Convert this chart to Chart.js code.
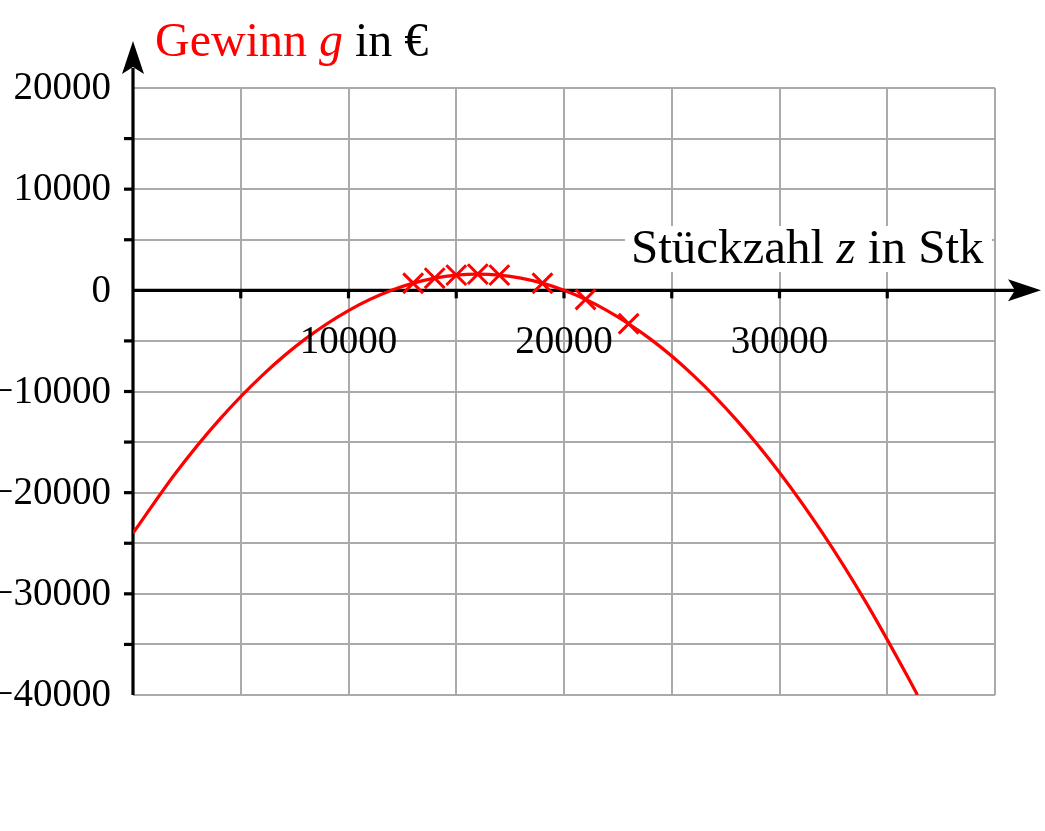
<!DOCTYPE html>
<html lang="de">
<head>
<meta charset="UTF-8">
<title>Gewinn g in €</title>
<script src="https://cdn.jsdelivr.net/npm/chart.js"></script>
<style>
  html, body { margin: 0; padding: 0; background: #fff; }
  #wrap { width: 1045px; height: 831px; }
</style>
</head>
<body>
<div id="wrap"><canvas id="gewinnChart" width="1045" height="831"></canvas></div>
<script>
  // Gewinnkurve g(z)
  const kurveZ = [0, 2000, 4000, 6000, 8000, 10000, 12000, 14000, 16000, 18000,
                  20000, 22000, 24000, 26000, 28000, 30000, 32000, 34000, 36000, 36400];
  const kurveG = [-24000, -18000, -12800, -8400, -4800, -2000, 0, 1200, 1600, 1200,
                  0, -2000, -4800, -8400, -12800, -18000, -24000, -30800, -38400, -40000];

  // markierte Messpunkte (Kreuze)
  const punkteZ = [13000, 14000, 15000, 16000, 17000, 19000, 21000, 23000];
  const punkteG = [700, 1200, 1500, 1600, 1500, 700, -900, -3300];

  // Achsenbeschriftungen
  const xTickLabels = [10000, 20000, 30000];
  const yTickLabels = [20000, 10000, 0, -10000, -20000, -30000, -40000];
  const xAchsenTitel = ['Stückzahl ', 'z', ' in Stk'];
  const yAchsenTitel = ['Gewinn ', 'g', ' in €'];

  const rot = '#ff0000';
  const serif = '"Liberation Serif", "DejaVu Serif", serif';

  const kurve = kurveZ.map((z, i) => ({ x: z, y: kurveG[i] }));
  const punkte = punkteZ.map((z, i) => ({ x: z, y: punkteG[i] }));

  // Text aus Teilen zeichnen, der mittlere Teil kursiv
  function teileZeichnen(ctx, teile, x, y, size, farben) {
    teile.forEach((t, i) => {
      ctx.font = (i === 1 ? 'italic ' : '') + size + 'px ' + serif;
      ctx.fillStyle = farben[i];
      ctx.fillText(t, x, y);
      x += ctx.measureText(t).width;
    });
    return x;
  }

  const achsenPlugin = {
    id: 'achsen',
    beforeDatasetsDraw(chart) {
      const { ctx, scales: { x, y } } = chart;
      const x0 = x.getPixelForValue(0);
      const y0 = y.getPixelForValue(0);
      ctx.save();
      ctx.strokeStyle = '#000';
      ctx.fillStyle = '#000';
      ctx.lineWidth = 3.2;

      // y-Achse mit Pfeil
      ctx.beginPath();
      ctx.moveTo(x0, y.bottom);
      ctx.lineTo(x0, 68);
      ctx.stroke();
      ctx.beginPath();
      ctx.moveTo(x0, 41);
      ctx.lineTo(x0 - 11, 74);
      ctx.lineTo(x0, 67);
      ctx.lineTo(x0 + 11, 74);
      ctx.closePath();
      ctx.fill();

      // x-Achse mit Pfeil
      ctx.beginPath();
      ctx.moveTo(x0, y0);
      ctx.lineTo(1015, y0);
      ctx.stroke();
      ctx.beginPath();
      ctx.moveTo(1041, y0);
      ctx.lineTo(1008, y0 - 11);
      ctx.lineTo(1015, y0);
      ctx.lineTo(1008, y0 + 11);
      ctx.closePath();
      ctx.fill();

      // Teilstriche
      for (let v = -35000; v <= 15000; v += 5000) {
        if (v === 0) continue;
        const py = y.getPixelForValue(v);
        ctx.beginPath();
        ctx.moveTo(x0 - 9, py);
        ctx.lineTo(x0, py);
        ctx.stroke();
      }
      for (let v = 5000; v <= 35000; v += 5000) {
        const px = x.getPixelForValue(v);
        ctx.beginPath();
        ctx.moveTo(px, y0);
        ctx.lineTo(px, y0 + 8);
        ctx.stroke();
      }
      ctx.restore();
    },
    afterDraw(chart) {
      const { ctx, scales: { x, y } } = chart;
      const y0 = y.getPixelForValue(0);
      ctx.save();
      ctx.fillStyle = '#000';
      ctx.font = '39px ' + serif;

      // y-Beschriftung
      ctx.textAlign = 'right';
      ctx.textBaseline = 'middle';
      yTickLabels.forEach(v => {
        const txt = v < 0 ? '\u2212' + Math.abs(v) : String(v);
        ctx.fillText(txt, 111, y.getPixelForValue(v) + 1);
      });

      // x-Beschriftung unter der Achse
      ctx.textAlign = 'center';
      ctx.textBaseline = 'alphabetic';
      xTickLabels.forEach(v => {
        ctx.fillText(String(v), x.getPixelForValue(v), y0 + 63);
      });

      // Achsentitel
      ctx.textAlign = 'left';
      ctx.fillStyle = '#fff';
      ctx.fillRect(625, 226, 367, 46);
      teileZeichnen(ctx, xAchsenTitel, 631, 263, 49, ['#000', '#000', '#000']);
      teileZeichnen(ctx, yAchsenTitel, 155, 56, 48, [rot, rot, '#000']);
      ctx.restore();
    }
  };

  const ctx = document.getElementById('gewinnChart').getContext('2d');
  new Chart(ctx, {
    type: 'scatter',
    data: {
      datasets: [
        {
          label: 'Messpunkte',
          data: punkte,
          showLine: false,
          pointStyle: 'crossRot',
          pointRadius: 14,
          borderColor: rot,
          borderWidth: 3,
          order: 0
        },
        {
          label: 'Gewinn',
          data: kurve,
          showLine: true,
          borderColor: rot,
          borderWidth: 3.2,
          pointRadius: 0,
          cubicInterpolationMode: 'monotone',
          order: 1
        }
      ]
    },
    options: {
      responsive: false,
      animation: false,
      layout: { padding: { left: 133, right: 50, top: 88, bottom: 136 } },
      plugins: { legend: { display: false }, tooltip: { enabled: false } },
      scales: {
        x: {
          type: 'linear', min: 0, max: 40000,
          ticks: { display: false, stepSize: 5000 },
          grid: { color: '#aaaaaa', lineWidth: 2, drawTicks: false },
          border: { display: false }
        },
        y: {
          type: 'linear', min: -40000, max: 20000,
          ticks: { display: false, stepSize: 5000 },
          grid: { color: '#aaaaaa', lineWidth: 2, drawTicks: false },
          border: { display: false }
        }
      }
    },
    plugins: [achsenPlugin]
  });
</script>
</body>
</html>
